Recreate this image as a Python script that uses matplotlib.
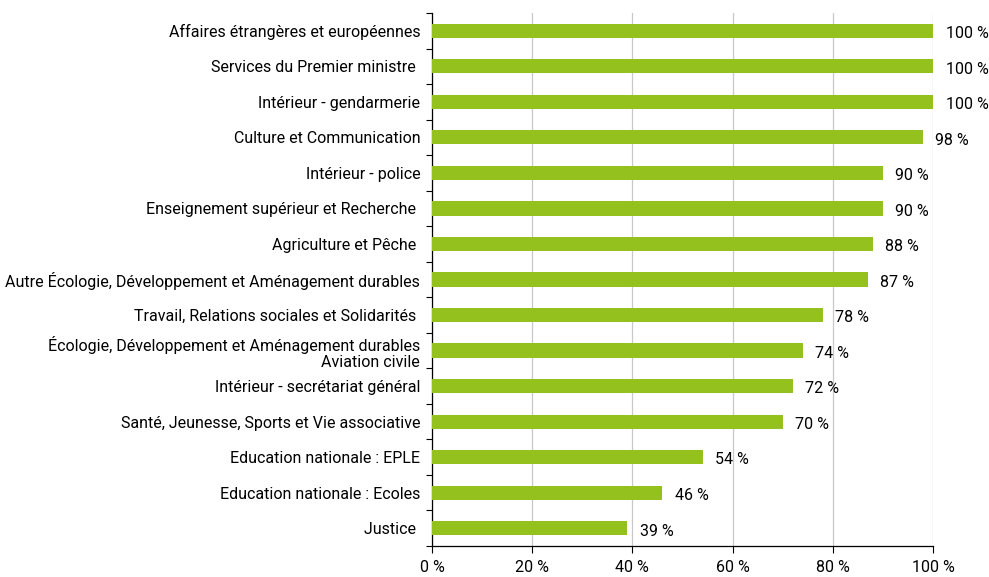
import matplotlib
matplotlib.use("Agg")
import matplotlib.pyplot as plt
import numpy as np
from matplotlib.ticker import FixedLocator

plt.rcParams['font.family'] = ['Roboto', 'DejaVu Sans']

# categories from top to bottom
labels = [
    "Affaires étrangères et européennes",
    "Services du Premier ministre ",
    "Intérieur - gendarmerie",
    "Culture et Communication",
    "Intérieur - police",
    "Enseignement supérieur et Recherche ",
    "Agriculture et Pêche ",
    "Autre Écologie, Développement et Aménagement durables",
    "Travail, Relations sociales et Solidarités ",
    "Écologie, Développement et Aménagement durables\nAviation civile",
    "Intérieur - secrétariat général",
    "Santé, Jeunesse, Sports et Vie associative",
    "Education nationale : EPLE",
    "Education nationale : Ecoles",
    "Justice ",
]
values = [100, 100, 100, 98, 90, 90, 88, 87, 78, 74, 72, 70, 54, 46, 39]
xticks = [0, 20, 40, 60, 80, 100]

fs = 11.5

fig = plt.figure(figsize=(9.89, 5.77), dpi=100)
ax = fig.add_axes([432/989, 31/577, 501/989, 533/577])

ypos = np.arange(len(labels))[::-1]
ax.barh(ypos, values, height=0.4, color="#95c11f", zorder=3)

for y, v in zip(ypos, values):
    ax.annotate(f"{v} %", (v, y), xytext=(9, -2), textcoords="offset points",
                va="center", ha="left", fontsize=fs)

ax.set_xlim(0, 100)
ax.set_ylim(-0.5, len(labels) - 0.5)
ax.set_xticks(xticks)
ax.set_xticklabels([f"{t} %" for t in xticks], fontsize=fs)
ax.set_yticks(ypos)
ax.set_yticklabels(labels, fontsize=fs, linespacing=1.1)
ax.tick_params(axis="y", which="major", length=0, pad=8.5)
ax.yaxis.set_minor_locator(FixedLocator(np.arange(-0.5, len(labels), 1)))
ax.tick_params(axis="y", which="minor", length=4, direction="out", width=0.8)
ax.tick_params(axis="x", length=5, direction="out", width=0.8, pad=5)

ax.grid(axis="x", color="#c8c8c8", linewidth=0.9, zorder=0)
for s in ["top", "right"]:
    ax.spines[s].set_visible(False)
ax.spines["left"].set_linewidth(0.9)
ax.spines["bottom"].set_linewidth(0.9)

fig.savefig("out.png", dpi=100)
